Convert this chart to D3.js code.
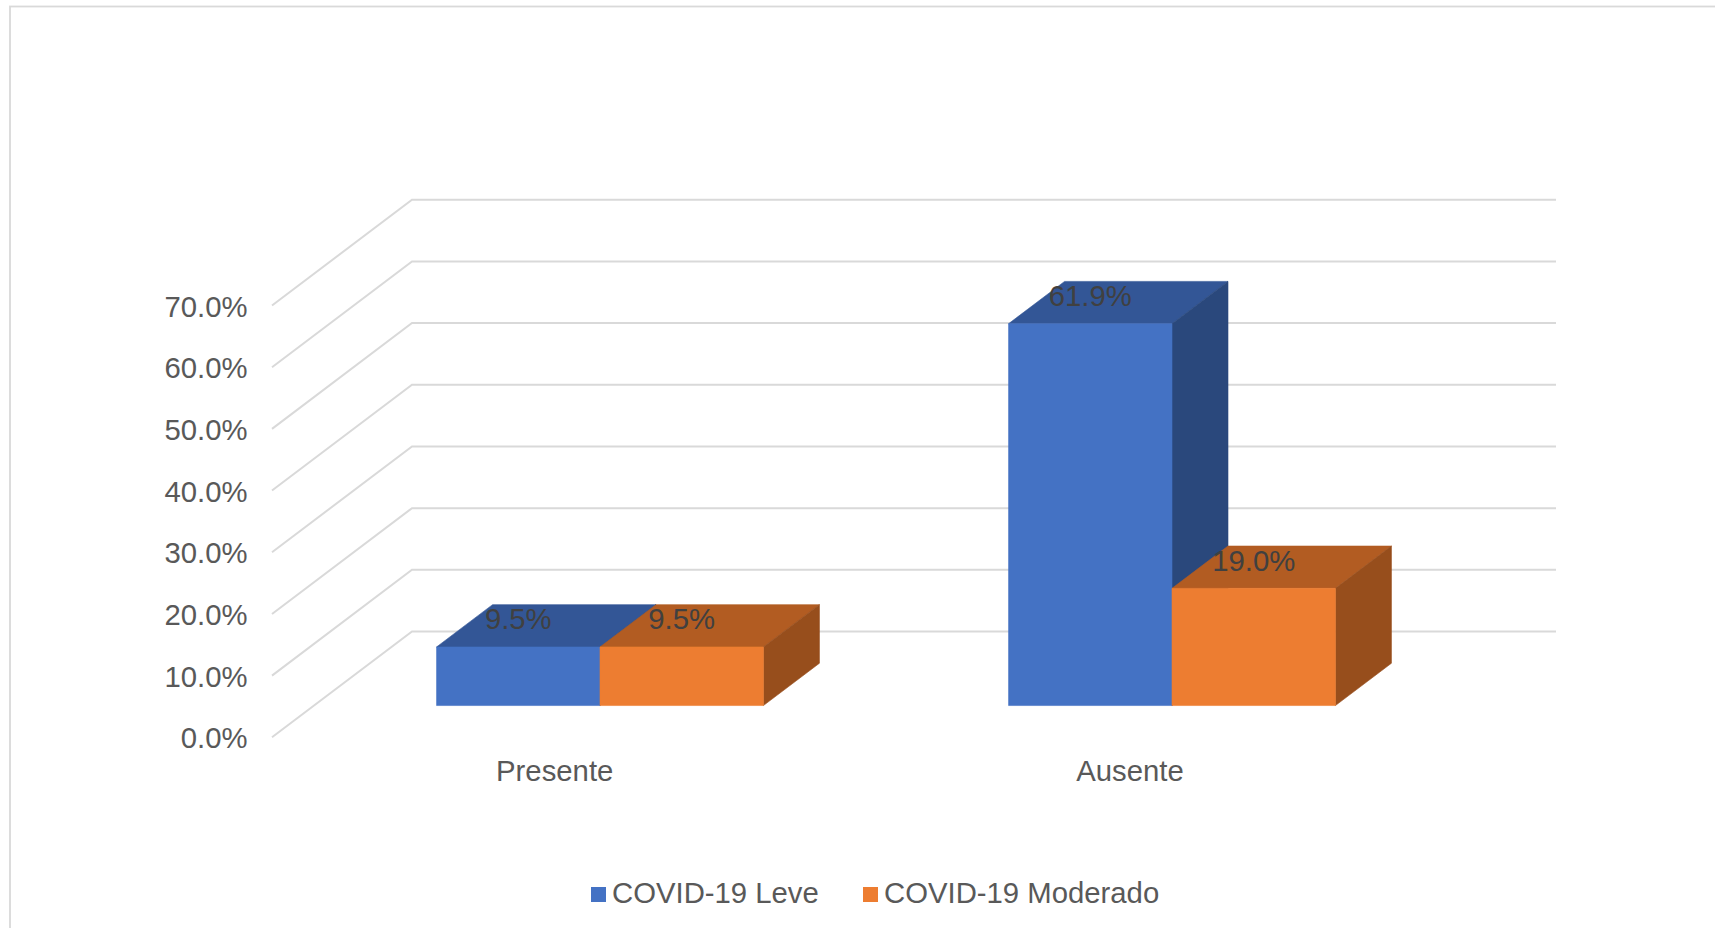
<!DOCTYPE html>
<html>
<head>
<meta charset="utf-8">
<script src="https://cdn.jsdelivr.net/npm/d3@7"></script>
<style>
  html, body { margin: 0; padding: 0; background: #fff; overflow: hidden; }
  svg { display: block; }
  text { font-family: "Liberation Sans", Arial, sans-serif; font-size: 29.3px; }
</style>
</head>
<body>
<svg id="chart" width="1715" height="928"></svg>
<script>
// Chart values
const categories = ["Presente", "Ausente"];
const seriesNames = ["COVID-19 Leve", "COVID-19 Moderado"];
const leveValues = [9.5, 61.9];
const moderadoValues = [9.5, 19.0];
const yTicks = [0, 10, 20, 30, 40, 50, 60, 70];

// Face colours per series: front, top, side
const faceColors = [
  { front: "#4472C4", top: "#335696", side: "#2A487C" },
  { front: "#ED7D31", top: "#B25C22", side: "#974E1C" }
];

const svg = d3.select("#chart");

// Frame around the chart area, running off the right and bottom edges
svg.append("rect")
  .attr("x", 10).attr("y", 6.5)
  .attr("width", 1800).attr("height", 1000)
  .attr("fill", "#fff")
  .attr("stroke", "#D9D9D9").attr("stroke-width", 1.8);

// Scales on the front plane of the floor, plus an oblique depth offset
const y = d3.scaleLinear().domain([0, 70]).range([737.3, 305.5]);
const x0 = d3.scaleBand().domain(categories).range([272, 1416]);
const x1 = d3.scaleBand().domain(seriesNames)
  .range([0, x0.bandwidth()]).paddingInner(0).paddingOuter(0.75);
const depthX = 140, depthY = 105.8;

// Project a floor-plane x, a value and a depth fraction to the page
const project = (px, v, z) => [px + z * depthX, y(v) - z * depthY];
const line = d3.line();

// Side wall and back wall gridlines
svg.append("g").selectAll("path").data(yTicks).join("path")
  .attr("d", v => line([project(x0.range()[0], v, 0), project(x0.range()[0], v, 1), project(x0.range()[1], v, 1)]))
  .attr("fill", "none")
  .attr("stroke", "#D9D9D9")
  .attr("stroke-width", 2);

// Value axis
const axis = d3.axisLeft(y)
  .tickValues(yTicks)
  .tickSize(0)
  .tickPadding(0)
  .tickFormat(v => v.toFixed(1) + "%");
const axisG = svg.append("g").attr("transform", "translate(247.5,0)").call(axis);
axisG.select(".domain").remove();
axisG.selectAll("text")
  .attr("dy", "10.5px")
  .attr("fill", "#595959")
  .style("font-family", '"Liberation Sans", Arial, sans-serif')
  .style("font-size", "29.3px");

// Category labels, with the first nudged toward the axis
const categoryLabelShift = [-3.3, 0];
svg.append("g").selectAll("text").data(categories).join("text")
  .attr("x", (d, i) => x0(d) + x0.bandwidth() / 2 + categoryLabelShift[i])
  .attr("y", 781)
  .attr("text-anchor", "middle")
  .attr("fill", "#595959")
  .text(d => d);

// Bars as boxes: top, side and front faces, with the depth span inside the floor
const barZ0 = 0.30, barZ1 = 0.70;
const seriesValues = [leveValues, moderadoValues];
const bars = [];
categories.forEach((c, ci) => {
  seriesNames.forEach((s, si) => {
    bars.push({ category: c, series: s, si, value: seriesValues[si][ci] });
  });
});

const barGroups = svg.append("g").selectAll("g").data(bars).join("g");

const polygon = pts => line(pts) + "Z";
const barLeft = d => x0(d.category) + x1(d.series);
const barRight = d => barLeft(d) + x1.bandwidth();

const addFace = (face, corners) => {
  barGroups.append("path")
    .attr("d", d => polygon(corners(d)))
    .attr("fill", d => faceColors[d.si][face])
    .attr("stroke", d => faceColors[d.si][face])
    .attr("stroke-width", 0.6);
};

addFace("top", d => [
  project(barLeft(d), d.value, barZ0), project(barRight(d), d.value, barZ0),
  project(barRight(d), d.value, barZ1), project(barLeft(d), d.value, barZ1)
]);
addFace("side", d => [
  project(barRight(d), 0, barZ0), project(barRight(d), d.value, barZ0),
  project(barRight(d), d.value, barZ1), project(barRight(d), 0, barZ1)
]);
addFace("front", d => [
  project(barLeft(d), 0, barZ0), project(barRight(d), 0, barZ0),
  project(barRight(d), d.value, barZ0), project(barLeft(d), d.value, barZ0)
]);

// Value labels sit over each bar's top face, centred on its front edge
svg.append("g").selectAll("text").data(bars).join("text")
  .attr("x", d => project(barLeft(d) + x1.bandwidth() / 2, d.value, barZ0)[0])
  .attr("y", d => project(0, d.value, barZ0)[1] - 17.5)
  .attr("text-anchor", "middle")
  .attr("fill", "#404040")
  .text(d => d.value.toFixed(1) + "%");

// Legend
const legendSwatchX = [591, 863];
const legend = svg.append("g").selectAll("g").data(seriesNames).join("g")
  .attr("transform", (d, i) => `translate(${legendSwatchX[i]},887)`);
legend.append("rect")
  .attr("width", 15).attr("height", 15)
  .attr("fill", (d, i) => faceColors[i].front);
legend.append("text")
  .attr("x", 21).attr("y", 16.3)
  .attr("fill", "#595959")
  .text(d => d);
</script>
</body>
</html>
